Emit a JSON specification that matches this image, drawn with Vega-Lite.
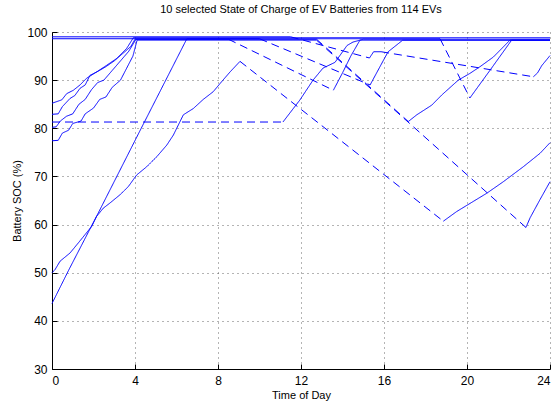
{
  "$schema": "https://vega.github.io/schema/vega-lite/v6.json",
  "autosize": "none",
  "width": 498,
  "height": 337,
  "padding": {"left": 52, "top": 32, "right": 10, "bottom": 40},
  "background": "white",
  "title": {"text": "10 selected State of Charge of EV Batteries from 114 EVs", "font": "Liberation Sans", "fontSize": 11, "fontWeight": "normal", "color": "#000", "offset": 11},
  "config": {"view": {"stroke": null}},
  "data": {"values": [
    {"seg": "a1", "style": "c", "t": 0, "v": 85.2}, {"seg": "a1", "style": "c", "t": 0.47, "v": 85.9}, {"seg": "a1", "style": "c", "t": 0.71, "v": 87.2}, {"seg": "a1", "style": "c", "t": 1.03, "v": 87.9}, {"seg": "a1", "style": "c", "t": 1.35, "v": 89}, {"seg": "a1", "style": "c", "t": 1.67, "v": 90.4}, {"seg": "a1", "style": "c", "t": 2.15, "v": 91.7}, {"seg": "a1", "style": "c", "t": 2.64, "v": 93.1}, {"seg": "a1", "style": "c", "t": 3.12, "v": 94.5}, {"seg": "a1", "style": "c", "t": 3.6, "v": 96.6}, {"seg": "a1", "style": "c", "t": 3.92, "v": 98.8}, {"seg": "a1", "style": "c", "t": 24, "v": 98.8},

    {"seg": "b1", "style": "c", "t": 0, "v": 82.9}, {"seg": "b1", "style": "c", "t": 0.3, "v": 83}, {"seg": "b1", "style": "c", "t": 0.5, "v": 84.5}, {"seg": "b1", "style": "c", "t": 0.87, "v": 86.2}, {"seg": "b1", "style": "c", "t": 1.1, "v": 86.8}, {"seg": "b1", "style": "c", "t": 1.35, "v": 88.3}, {"seg": "b1", "style": "c", "t": 1.6, "v": 89}, {"seg": "b1", "style": "c", "t": 1.83, "v": 91}, {"seg": "b1", "style": "c", "t": 2.2, "v": 91.8}, {"seg": "b1", "style": "c", "t": 2.6, "v": 92.8}, {"seg": "b1", "style": "c", "t": 3.0, "v": 94}, {"seg": "b1", "style": "c", "t": 3.4, "v": 95.5}, {"seg": "b1", "style": "c", "t": 3.8, "v": 97}, {"seg": "b1", "style": "c", "t": 4.0, "v": 98.5}, {"seg": "b1", "style": "c", "t": 8.5, "v": 98.5},
    {"seg": "b2", "style": "d", "t": 8.5, "v": 98.5}, {"seg": "b2", "style": "d", "t": 13.56, "v": 87.9},
    {"seg": "b3", "style": "c", "t": 13.56, "v": 87.9}, {"seg": "b3", "style": "c", "t": 14.0, "v": 91.5}, {"seg": "b3", "style": "c", "t": 14.4, "v": 95}, {"seg": "b3", "style": "c", "t": 14.84, "v": 98.3}, {"seg": "b3", "style": "c", "t": 24, "v": 98.3},

    {"seg": "c1", "style": "c", "t": 0, "v": 80.2}, {"seg": "c1", "style": "c", "t": 0.2, "v": 80.3}, {"seg": "c1", "style": "c", "t": 0.4, "v": 81.5}, {"seg": "c1", "style": "c", "t": 0.7, "v": 82.5}, {"seg": "c1", "style": "c", "t": 1.0, "v": 83}, {"seg": "c1", "style": "c", "t": 1.3, "v": 85}, {"seg": "c1", "style": "c", "t": 1.6, "v": 86}, {"seg": "c1", "style": "c", "t": 1.9, "v": 88}, {"seg": "c1", "style": "c", "t": 2.2, "v": 89.5}, {"seg": "c1", "style": "c", "t": 2.5, "v": 90}, {"seg": "c1", "style": "c", "t": 2.9, "v": 92}, {"seg": "c1", "style": "c", "t": 3.3, "v": 94}, {"seg": "c1", "style": "c", "t": 3.7, "v": 96}, {"seg": "c1", "style": "c", "t": 4.05, "v": 98.5}, {"seg": "c1", "style": "c", "t": 12.75, "v": 98.5},
    {"seg": "c2", "style": "d", "t": 12.75, "v": 98.5}, {"seg": "c2", "style": "d", "t": 17.17, "v": 81.4},
    {"seg": "c3", "style": "c", "t": 17.17, "v": 81.4}, {"seg": "c3", "style": "c", "t": 17.58, "v": 82.8}, {"seg": "c3", "style": "c", "t": 18.3, "v": 84.8}, {"seg": "c3", "style": "c", "t": 18.78, "v": 86.9}, {"seg": "c3", "style": "c", "t": 19.58, "v": 90.0}, {"seg": "c3", "style": "c", "t": 20.14, "v": 91.4}, {"seg": "c3", "style": "c", "t": 20.63, "v": 92.8}, {"seg": "c3", "style": "c", "t": 21.27, "v": 94.8}, {"seg": "c3", "style": "c", "t": 22.07, "v": 98.3}, {"seg": "c3", "style": "c", "t": 24, "v": 98.3},

    {"seg": "d1", "style": "c", "t": 0, "v": 77.4}, {"seg": "d1", "style": "c", "t": 0.3, "v": 77.5}, {"seg": "d1", "style": "c", "t": 0.5, "v": 79}, {"seg": "d1", "style": "c", "t": 0.8, "v": 79.6}, {"seg": "d1", "style": "c", "t": 1.0, "v": 81}, {"seg": "d1", "style": "c", "t": 1.4, "v": 81.5}, {"seg": "d1", "style": "c", "t": 1.6, "v": 83}, {"seg": "d1", "style": "c", "t": 2.0, "v": 84.2}, {"seg": "d1", "style": "c", "t": 2.3, "v": 86}, {"seg": "d1", "style": "c", "t": 2.6, "v": 86.5}, {"seg": "d1", "style": "c", "t": 2.9, "v": 88.5}, {"seg": "d1", "style": "c", "t": 3.3, "v": 90}, {"seg": "d1", "style": "c", "t": 3.6, "v": 92.5}, {"seg": "d1", "style": "c", "t": 3.9, "v": 95}, {"seg": "d1", "style": "c", "t": 4.1, "v": 98.3}, {"seg": "d1", "style": "c", "t": 12.75, "v": 98.3},
    {"seg": "d2", "style": "d", "t": 12.75, "v": 98.3}, {"seg": "d2", "style": "d", "t": 22.84, "v": 59.4},
    {"seg": "d3", "style": "c", "t": 22.84, "v": 59.4}, {"seg": "d3", "style": "c", "t": 23.04, "v": 61.4}, {"seg": "d3", "style": "c", "t": 23.52, "v": 65.2}, {"seg": "d3", "style": "c", "t": 24, "v": 68.9},

    {"seg": "e1", "style": "c", "t": 0, "v": 50}, {"seg": "e1", "style": "c", "t": 0.14, "v": 50.6}, {"seg": "e1", "style": "c", "t": 0.39, "v": 52.4}, {"seg": "e1", "style": "c", "t": 0.87, "v": 54.1}, {"seg": "e1", "style": "c", "t": 1.27, "v": 56.2}, {"seg": "e1", "style": "c", "t": 1.59, "v": 57.9}, {"seg": "e1", "style": "c", "t": 1.91, "v": 59.6}, {"seg": "e1", "style": "c", "t": 2.15, "v": 61.7}, {"seg": "e1", "style": "c", "t": 2.47, "v": 63.4}, {"seg": "e1", "style": "c", "t": 2.8, "v": 64.5}, {"seg": "e1", "style": "c", "t": 3.28, "v": 66.2}, {"seg": "e1", "style": "c", "t": 3.68, "v": 67.9}, {"seg": "e1", "style": "c", "t": 4.08, "v": 70.3}, {"seg": "e1", "style": "c", "t": 4.56, "v": 72.0}, {"seg": "e1", "style": "c", "t": 5.05, "v": 74.1}, {"seg": "e1", "style": "c", "t": 5.53, "v": 76.5}, {"seg": "e1", "style": "c", "t": 5.85, "v": 78.6}, {"seg": "e1", "style": "c", "t": 6.33, "v": 82.8}, {"seg": "e1", "style": "c", "t": 6.81, "v": 84.1}, {"seg": "e1", "style": "c", "t": 7.29, "v": 86.0}, {"seg": "e1", "style": "c", "t": 7.77, "v": 87.6}, {"seg": "e1", "style": "c", "t": 8.1, "v": 89.3}, {"seg": "e1", "style": "c", "t": 8.58, "v": 91.7}, {"seg": "e1", "style": "c", "t": 9.06, "v": 93.9},
    {"seg": "e2", "style": "d", "t": 9.06, "v": 93.9}, {"seg": "e2", "style": "d", "t": 18.86, "v": 60.7},
    {"seg": "e3", "style": "c", "t": 18.86, "v": 60.7}, {"seg": "e3", "style": "c", "t": 19.5, "v": 62.7}, {"seg": "e3", "style": "c", "t": 20.3, "v": 64.8}, {"seg": "e3", "style": "c", "t": 20.95, "v": 66.5}, {"seg": "e3", "style": "c", "t": 21.75, "v": 68.9}, {"seg": "e3", "style": "c", "t": 22.71, "v": 72}, {"seg": "e3", "style": "c", "t": 23.52, "v": 74.8}, {"seg": "e3", "style": "c", "t": 24, "v": 77.0},

    {"seg": "f1", "style": "c", "t": 0, "v": 43.6}, {"seg": "f1", "style": "c", "t": 0.8, "v": 50.5}, {"seg": "f1", "style": "c", "t": 2.3, "v": 63}, {"seg": "f1", "style": "c", "t": 4.3, "v": 80}, {"seg": "f1", "style": "c", "t": 6.5, "v": 98.6}, {"seg": "f1", "style": "c", "t": 18.7, "v": 98.6},
    {"seg": "f2", "style": "d", "t": 18.7, "v": 98.6}, {"seg": "f2", "style": "d", "t": 20.14, "v": 86.3},
    {"seg": "f3", "style": "c", "t": 20.14, "v": 86.3}, {"seg": "f3", "style": "c", "t": 21.1, "v": 92}, {"seg": "f3", "style": "c", "t": 22.15, "v": 98.3}, {"seg": "f3", "style": "c", "t": 24, "v": 98.3},

    {"seg": "g1", "style": "d", "t": 0, "v": 81.3}, {"seg": "g1", "style": "d", "t": 11.13, "v": 81.3},
    {"seg": "g2", "style": "c", "t": 11.13, "v": 81.3}, {"seg": "g2", "style": "c", "t": 11.95, "v": 85.9}, {"seg": "g2", "style": "c", "t": 12.58, "v": 90.0}, {"seg": "g2", "style": "c", "t": 13.06, "v": 92.5}, {"seg": "g2", "style": "c", "t": 13.64, "v": 93.7}, {"seg": "g2", "style": "c", "t": 14.22, "v": 97.2}, {"seg": "g2", "style": "c", "t": 14.5, "v": 97.9}, {"seg": "g2", "style": "c", "t": 15.0, "v": 98.5}, {"seg": "g2", "style": "c", "t": 24, "v": 98.5},

    {"seg": "h1", "style": "c", "t": 0, "v": 99.0}, {"seg": "h1", "style": "c", "t": 11.5, "v": 99.0},
    {"seg": "h2", "style": "d", "t": 11.5, "v": 99.0}, {"seg": "h2", "style": "d", "t": 15.3, "v": 94.6},
    {"seg": "h3", "style": "c", "t": 15.3, "v": 94.6}, {"seg": "h3", "style": "c", "t": 15.5, "v": 95.9}, {"seg": "h3", "style": "c", "t": 15.86, "v": 95.9},
    {"seg": "h4", "style": "d", "t": 15.86, "v": 95.9}, {"seg": "h4", "style": "d", "t": 23.2, "v": 90.7},
    {"seg": "h5", "style": "c", "t": 23.2, "v": 90.7}, {"seg": "h5", "style": "c", "t": 23.4, "v": 91.5}, {"seg": "h5", "style": "c", "t": 23.6, "v": 93}, {"seg": "h5", "style": "c", "t": 24, "v": 95.1},

    {"seg": "i1", "style": "c", "t": 0, "v": 98.6}, {"seg": "i1", "style": "c", "t": 10.0, "v": 98.6},
    {"seg": "i2", "style": "d", "t": 10.0, "v": 98.6}, {"seg": "i2", "style": "d", "t": 15.33, "v": 89.0},
    {"seg": "i3", "style": "c", "t": 15.33, "v": 89.0}, {"seg": "i3", "style": "c", "t": 15.97, "v": 94.1}, {"seg": "i3", "style": "c", "t": 16.2, "v": 95.9}, {"seg": "i3", "style": "c", "t": 16.9, "v": 98.3}, {"seg": "i3", "style": "c", "t": 24, "v": 98.3}
  ]},
  "mark": {"type": "line", "color": "#0000ff", "strokeWidth": 1, "interpolate": "linear"},
  "encoding": {
    "x": {"field": "t", "type": "quantitative", "scale": {"domain": [0, 24], "nice": false, "zero": false},
      "axis": {"title": "Time of Day", "values": [0, 4, 8, 12, 16, 20, 24], "grid": true, "gridDash": [1, 4], "gridColor": "#444", "gridOpacity": 0.8, "domainColor": "#000", "tickColor": "#000", "tickSize": -5, "labelFont": "Liberation Sans", "labelFontSize": 12, "labelColor": "#000", "labelPadding": 11, "titleFont": "Liberation Sans", "titleFontSize": 11, "titleFontWeight": "normal", "titleColor": "#000", "titlePadding": 3}},
    "y": {"field": "v", "type": "quantitative", "scale": {"domain": [30, 100], "nice": false, "zero": false},
      "axis": {"title": "Battery SOC (%)", "values": [30, 40, 50, 60, 70, 80, 90, 100], "grid": true, "gridDash": [1, 4], "gridColor": "#444", "gridOpacity": 0.8, "domainColor": "#000", "tickColor": "#000", "tickSize": -5, "labelFont": "Liberation Sans", "labelFontSize": 12, "labelColor": "#000", "labelPadding": 10, "titleFont": "Liberation Sans", "titleFontSize": 11, "titleFontWeight": "normal", "titleColor": "#000", "titlePadding": 4}},
    "detail": {"field": "seg", "type": "nominal"},
    "strokeDash": {"field": "style", "type": "nominal", "scale": {"domain": ["c", "d"], "range": [[1, 0], [8, 5]]}, "legend": null}
  }
}
